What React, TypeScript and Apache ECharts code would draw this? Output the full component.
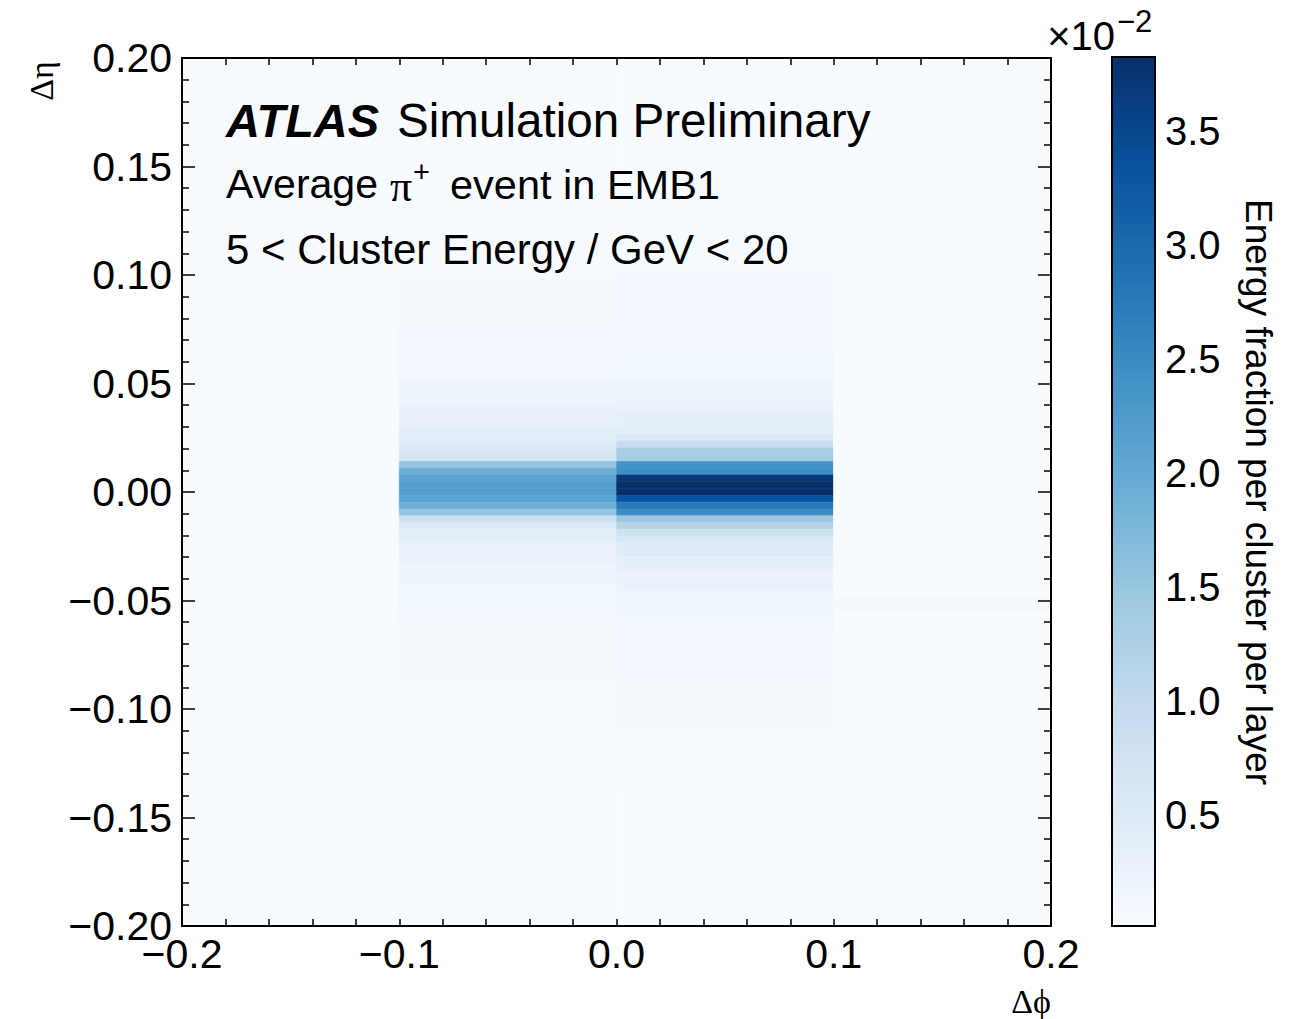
import React, { useEffect, useRef } from "react";
import * as echarts from "echarts";

// ---- data ----
const PHI_EDGES = [-0.2, -0.1, 0.0, 0.1, 0.2];
const ETA_BIN = 0.003125; // EMB1 eta granularity, bin k centred at k*ETA_BIN
const V_MIN = 0.00013;
const V_MAX = 0.03825;
const BLUES = ["#f7fbff", "#deebf7", "#c6dbef", "#9ecae1", "#6baed6", "#4292c6", "#2171b5", "#08519c", "#08306b"];

// bands per phi column: [kFrom, kTo, energy fraction] (bin indices, inclusive)
const COL0: [number, number, number][] = [[64, -64, 0.00013]];
const COL1: [number, number, number][] = [
  [64, -64, 0.00013],
  [31, 25, 0.0007], [24, 17, 0.00108], [16, 13, 0.00204], [12, 10, 0.00299],
  [9, 8, 0.00394], [7, 7, 0.00509], [6, 6, 0.00585], [5, 5, 0.00699],
  [4, 4, 0.01538], [3, 3, 0.01919], [2, 2, 0.0211], [1, 1, 0.02186],
  [0, 0, 0.02186], [-1, -1, 0.0211], [-2, -2, 0.01919], [-3, -3, 0.01538],
  [-4, -4, 0.00852], [-5, -5, 0.00547], [-6, -7, 0.00394], [-8, -10, 0.0028],
  [-11, -13, 0.00204], [-14, -16, 0.00146], [-17, -19, 0.00108],
  [-20, -28, 0.0007], [-29, -35, 0.00032],
];
const COL2: [number, number, number][] = [
  [64, -64, 0.00013],
  [43, 33, 0.00051], [32, 26, 0.00089], [25, 21, 0.00108], [20, 17, 0.00146],
  [16, 14, 0.00204], [13, 12, 0.0028], [11, 10, 0.00356], [9, 9, 0.00432],
  [8, 8, 0.00547], [7, 7, 0.00966], [6, 6, 0.01309], [5, 5, 0.01347],
  [4, 4, 0.02376], [3, 3, 0.02453], [2, 2, 0.03711], [1, 1, 0.03825],
  [0, 0, 0.03825], [-1, -1, 0.0333], [-2, -2, 0.02758], [-3, -3, 0.02453],
  [-4, -4, 0.01462], [-5, -5, 0.01157], [-6, -6, 0.00775], [-7, -7, 0.00623],
  [-8, -9, 0.0047], [-10, -11, 0.00356], [-12, -14, 0.00261], [-15, -17, 0.00185],
  [-18, -20, 0.00146], [-21, -27, 0.00108], [-28, -35, 0.0007], [-36, -43, 0.00044],
];
const COL3: [number, number, number][] = [
  [64, -64, 0.00013],
  [30, -40, 0.00024],
  [-16, -17, 0.0006],
];
const COLUMNS = [COL0, COL1, COL2, COL3];

const CBAR_TICKS = [0.005, 0.01, 0.015, 0.02, 0.025, 0.03, 0.035];

const FONT = "Liberation Sans, Arial, Helvetica, sans-serif";
const SERIF = "Liberation Serif, Times New Roman, serif";

const minus = (s: string) => s.replace("-", "\u2212");

export default function App() {
  const ref = useRef<HTMLDivElement>(null);

  useEffect(() => {
    const chart = echarts.init(ref.current!, null, { renderer: "svg" });

    const cells: number[][] = [];
    COLUMNS.forEach((bands, i) => {
      bands.forEach(([ka, kb, v]) => {
        const kTop = Math.max(ka, kb);
        const kBot = Math.min(ka, kb);
        cells.push([
          PHI_EDGES[i],
          PHI_EDGES[i + 1],
          Math.min(0.2, (kTop + 0.5) * ETA_BIN),
          Math.max(-0.2, (kBot - 0.5) * ETA_BIN),
          v,
        ]);
      });
    });

    const G = { left: 182, top: 58, width: 869, height: 868 };

    const baseX = {
      type: "value",
      min: -0.2,
      max: 0.2,
      interval: 0.1,
      gridIndex: 0,
      z: 10,
      axisLine: { show: true, onZero: false, lineStyle: { color: "#000", width: 2 } },
      axisTick: { show: true, inside: true, length: 7, lineStyle: { color: "#000", width: 1.5 } },
      minorTick: { show: true, splitNumber: 5, length: 7, lineStyle: { color: "#000", width: 1.5 } },
      splitLine: { show: false },
      minorSplitLine: { show: false },
    };
    const baseY = {
      type: "value",
      min: -0.2,
      max: 0.2,
      interval: 0.05,
      gridIndex: 0,
      z: 10,
      axisLine: { show: true, onZero: false, lineStyle: { color: "#000", width: 2 } },
      axisTick: { show: true, inside: true, length: 13, lineStyle: { color: "#000", width: 1.5 } },
      minorTick: { show: true, splitNumber: 5, length: 7, lineStyle: { color: "#000", width: 1.5 } },
      splitLine: { show: false },
      minorSplitLine: { show: false },
    };

    const txt = (o: any) => ({ type: "text", z: 100, ...o });

    const option: any = {
      animation: false,
      backgroundColor: "#fff",
      grid: [
        { ...G, show: false },
        { left: 1112, top: 57, width: 43, height: 869, show: false },
      ],
      xAxis: [
        {
          ...baseX,
          position: "bottom",
          axisLabel: {
            show: true,
            margin: 7,
            fontSize: 41,
            fontFamily: FONT,
            color: "#000",
            formatter: (v: number) => minus(v.toFixed(1)),
          },
        },
        { ...baseX, position: "top", axisLabel: { show: false } },
        { type: "value", gridIndex: 1, min: 0, max: 1, show: false },
      ],
      yAxis: [
        {
          ...baseY,
          position: "left",
          axisLabel: {
            show: true,
            margin: 10,
            fontSize: 41,
            fontFamily: FONT,
            color: "#000",
            formatter: (v: number) => minus(v.toFixed(2)),
          },
        },
        { ...baseY, position: "right", axisLabel: { show: false } },
        {
          type: "value",
          gridIndex: 1,
          min: V_MIN,
          max: V_MAX,
          position: "right",
          z: 10,
          axisLine: { show: false },
          axisTick: { show: false },
          splitLine: { show: false },
          axisLabel: {
            show: true,
            customValues: CBAR_TICKS,
            margin: 10,
            fontSize: 40,
            fontFamily: FONT,
            color: "#000",
            formatter: (v: number) => (v * 100).toFixed(1),
          },
        },
      ],
      visualMap: [
        {
          type: "continuous",
          show: false,
          min: V_MIN,
          max: V_MAX,
          dimension: 4,
          seriesIndex: 0,
          inRange: { color: BLUES },
        },
      ],
      series: [
        {
          type: "custom",
          z: 1,
          xAxisIndex: 0,
          yAxisIndex: 0,
          dimensions: ["x0", "x1", "y0", "y1", "v"],
          encode: { x: [0, 1], y: [2, 3] },
          data: cells,
          renderItem: (_p: any, api: any) => {
            const a = api.coord([api.value(0), api.value(2)]);
            const b = api.coord([api.value(1), api.value(3)]);
            const c = api.visual("color");
            return {
              type: "rect",
              shape: { x: a[0], y: a[1], width: b[0] - a[0], height: b[1] - a[1] },
              style: { fill: c, stroke: c, lineWidth: 0.6 },
            };
          },
        },
        {
          type: "custom",
          z: 1,
          xAxisIndex: 2,
          yAxisIndex: 2,
          data: [[0, 1, V_MIN, V_MAX]],
          encode: { x: [0, 1], y: [2, 3] },
          renderItem: (_p: any, api: any) => {
            const a = api.coord([api.value(0), api.value(3)]);
            const b = api.coord([api.value(1), api.value(2)]);
            const stops = BLUES.map((col, i) => ({ offset: i / (BLUES.length - 1), color: col }));
            return {
              type: "rect",
              shape: { x: a[0], y: a[1], width: b[0] - a[0], height: b[1] - a[1] },
              style: {
                fill: new echarts.graphic.LinearGradient(0, 1, 0, 0, stops),
                stroke: "#000",
                lineWidth: 2,
              },
            };
          },
        },
      ],
      graphic: [
        txt({
          x: 226,
          y: 120,
          style: { text: "ATLAS", font: `italic bold 47px ${FONT}`, fill: "#000", verticalAlign: "middle" },
        }),
        txt({
          x: 397,
          y: 120,
          style: { text: "Simulation Preliminary", font: `47.6px ${FONT}`, fill: "#000", verticalAlign: "middle" },
        }),
        txt({
          x: 226,
          y: 184,
          style: { text: "Average", font: `41px ${FONT}`, fill: "#000", verticalAlign: "middle" },
        }),
        txt({
          x: 390,
          y: 186,
          style: { text: "\u03c0", font: `44px ${SERIF}`, fill: "#000", verticalAlign: "middle" },
        }),
        txt({
          x: 413,
          y: 172,
          style: { text: "+", font: `29px ${FONT}`, fill: "#000", verticalAlign: "middle" },
        }),
        txt({
          x: 450,
          y: 184,
          style: { text: "event in EMB1", font: `41.5px ${FONT}`, fill: "#000", verticalAlign: "middle" },
        }),
        txt({
          x: 226,
          y: 249,
          style: { text: "5 < Cluster Energy / GeV < 20", font: `42px ${FONT}`, fill: "#000", verticalAlign: "middle" },
        }),
        txt({
          x: 41,
          y: 81,
          rotation: Math.PI / 2,
          style: { text: "\u0394\u03b7", font: `34px ${SERIF}`, fill: "#000", align: "center", verticalAlign: "middle" },
        }),
        txt({
          x: 1051,
          y: 1001,
          style: { text: "\u0394\u03d5", font: `34px ${SERIF}`, fill: "#000", align: "right", verticalAlign: "middle" },
        }),
        txt({
          x: 1258,
          y: 492,
          rotation: -Math.PI / 2,
          style: {
            text: "Energy fraction per cluster per layer",
            font: `37px ${FONT}`,
            fill: "#000",
            align: "center",
            verticalAlign: "middle",
          },
        }),
        txt({
          x: 1115,
          y: 36,
          style: { text: "\u00d710", font: `40px ${FONT}`, fill: "#000", align: "right", verticalAlign: "middle" },
        }),
        txt({
          x: 1117,
          y: 21,
          style: { text: "\u22122", font: `31px ${FONT}`, fill: "#000", verticalAlign: "middle" },
        }),
      ],
    };

    chart.setOption(option);
    return () => chart.dispose();
  }, []);

  return (
    <div
      ref={ref}
      style={{ position: "fixed", left: 0, top: 0, width: 1291, height: 1019, background: "#fff" }}
    />
  );
}
